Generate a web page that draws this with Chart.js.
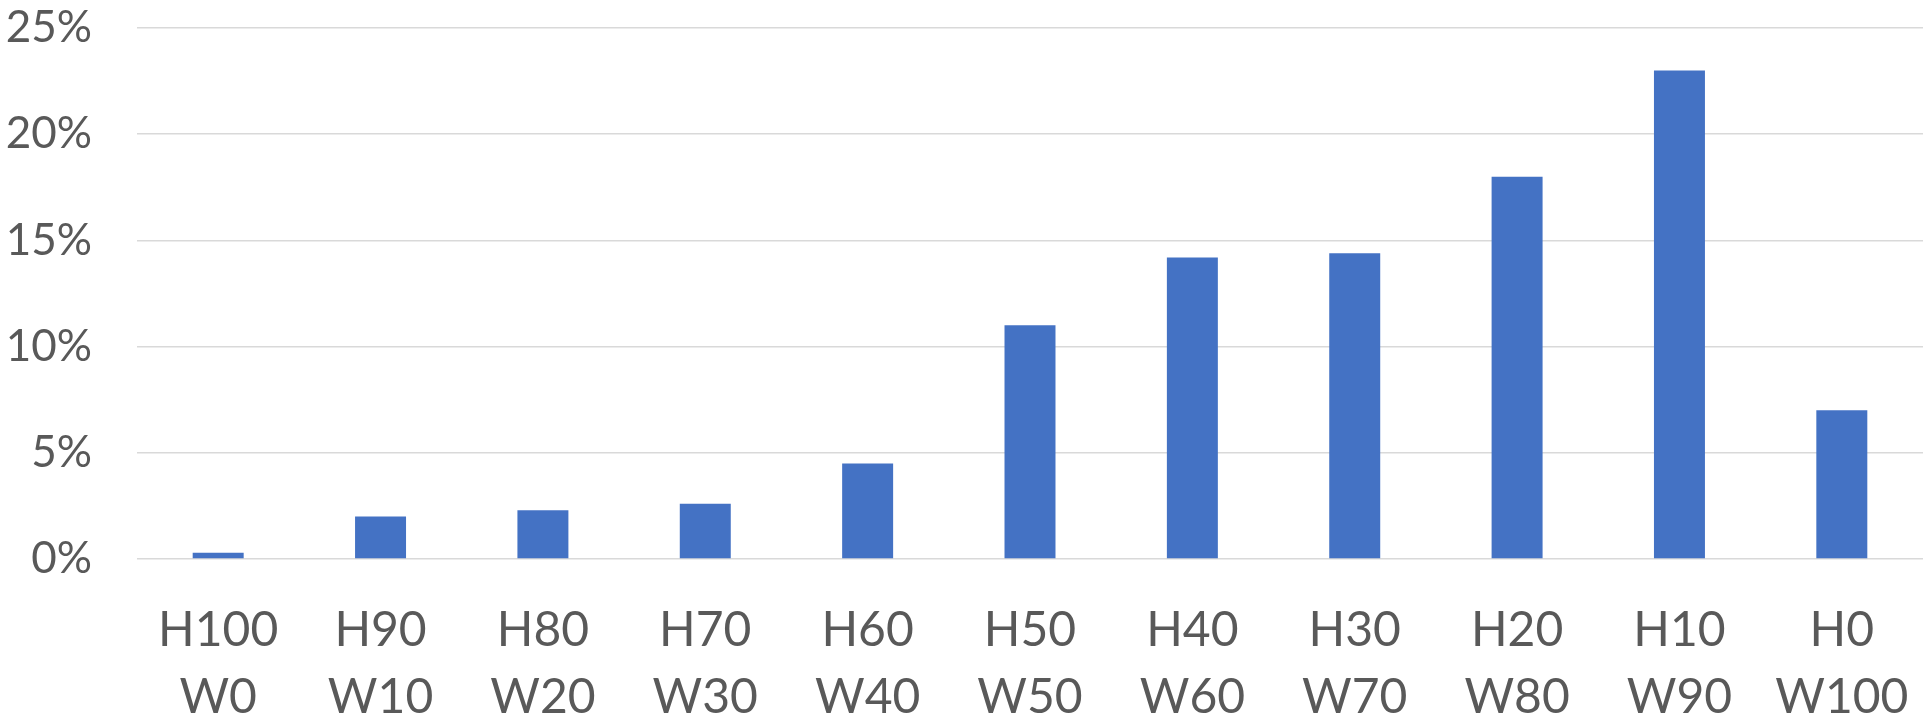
<!DOCTYPE html>
<html>
<head>
<meta charset="utf-8">
<script src="https://cdn.jsdelivr.net/npm/chart.js@4/dist/chart.umd.min.js"></script>
<style>
  html, body { margin: 0; padding: 0; background: #ffffff; }
  #wrap { width: 1925px; height: 723px; }
</style>
</head>
<body>
<div id="wrap"><canvas id="myChart" width="1925" height="723"></canvas></div>
<script>
// categories (two lines each)
const categories = [
    ["H100", "W0"], ["H90", "W10"], ["H80", "W20"], ["H70", "W30"],
    ["H60", "W40"], ["H50", "W50"], ["H40", "W60"], ["H30", "W70"],
    ["H20", "W80"], ["H10", "W90"], ["H0", "W100"]
];
// share in percent
const valeurs = [0.3, 2.0, 2.3, 2.6, 4.5, 11.0, 14.2, 14.4, 18.0, 23.0, 7.0];
const yTicks = [0, 5, 10, 15, 20, 25];

const couleurBarre = '#4472C4';
const couleurTexte = '#595959';
const couleurGrille = '#D9D9D9';

const ctx = document.getElementById('myChart').getContext('2d');

let myChart = new Chart(ctx, {
    type: 'bar',
    data: {
        labels: categories,
        datasets: [{
            data: valeurs,
            backgroundColor: couleurBarre,
            borderWidth: 0,
            categoryPercentage: 1,
            barPercentage: 0.314
        }]
    },
    options: {
        responsive: false,
        animation: false,
        layout: { padding: { top: 28, right: 2, left: 0, bottom: 0 } },
        plugins: {
            legend: { display: false },
            tooltip: { enabled: false }
        },
        scales: {
            x: {
                grid: { display: false, drawTicks: false },
                border: { display: false },
                ticks: {
                    color: couleurTexte,
                    font: { family: 'Lato', size: 48, lineHeight: 1.4 },
                    padding: 38,
                    maxRotation: 0,
                    autoSkip: false
                },
                afterFit: (scale) => {
                    scale.height = 164;
                    // pas de marge en plus pour les labels des bords
                    scale.paddingLeft = 0;
                    scale.paddingRight = 0;
                }
            },
            y: {
                min: 0,
                max: 25,
                afterBuildTicks: (scale) => {
                    scale.ticks = yTicks.map(v => ({ value: v }));
                },
                grid: { color: couleurGrille, lineWidth: 1.5, drawTicks: false },
                border: { display: false },
                ticks: {
                    color: couleurTexte,
                    font: { family: 'Lato', size: 44 },
                    padding: 45,
                    callback: (v) => v + '%'
                },
                afterFit: (scale) => {
                    scale.width = 137;
                    scale.paddingTop = 0;
                    scale.paddingBottom = 0;
                }
            }
        }
    }
});
</script>
</body>
</html>
